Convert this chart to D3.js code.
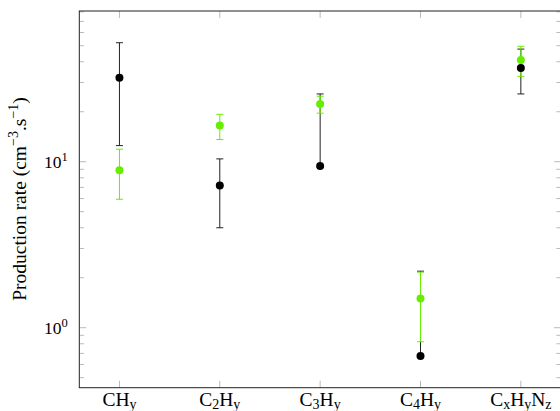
<!DOCTYPE html>
<html><head><meta charset="utf-8">
<script src="https://cdn.jsdelivr.net/npm/d3@7"></script>
<style>body{margin:0;background:#fff}svg{display:block}text{font-family:"Liberation Serif","DejaVu Serif",serif;fill:#000}</style>
</head><body>
<svg id="c" width="560" height="411"></svg>
<script>
const categories = ["CH_y", "C_2H_y", "C_3H_y", "C_4H_y", "C_xH_yN_z"];
const blackValues = [32.1, 7.2, 9.42, 0.675, 36.7];
const blackUpper  = [52.1, 10.4, 25.6, 2.19, 47.7];
const blackLower  = [12.5, 4.0, 9.25, 0.665, 25.6];
const greenValues = [8.88, 16.5, 22.3, 1.50, 41.0];
const greenUpper  = [11.9, 19.3, 24.8, 2.16, 49.6];
const greenLower  = [5.94, 13.6, 19.6, 0.823, 32.7];
const yMajorTicks = [1, 10];
const yMinorTicks = [0.5,0.6,0.7,0.8,0.9,2,3,4,5,6,7,8,9,20,30,40,50,60,70,80];
const yTickLabels = ["10^0", "10^1"];
const yLabel = "Production rate (cm^{−3}.s^{−1})";

const svg = d3.select("#c");
const L = 79.3, R = 561, T = 11, B = 387.7;
const x = d3.scaleLinear().domain([0.6, 5.4]).range([L, R]);
const y = d3.scaleLog().domain([0.435, 80.9]).range([B, T]);
const tickCol = "#aaa";

// ticks
const g = svg.append("g");
yMinorTicks.forEach(v => {
  [[L, L+4.7],[R, R-4.7]].forEach(([a,b]) => g.append("line").attr("x1",a).attr("x2",b).attr("y1",y(v)).attr("y2",y(v)).attr("stroke",tickCol).attr("stroke-width",0.8));
});
yMajorTicks.forEach(v => {
  [[L, L+7],[R, R-7]].forEach(([a,b]) => g.append("line").attr("x1",a).attr("x2",b).attr("y1",y(v)).attr("y2",y(v)).attr("stroke",tickCol).attr("stroke-width",0.8));
});
categories.forEach((c,i) => {
  [[B, B-7],[T, T+7]].forEach(([a,b]) => g.append("line").attr("x1",x(i+1)).attr("x2",x(i+1)).attr("y1",a).attr("y2",b).attr("stroke",tickCol).attr("stroke-width",0.8));
});

// frame
svg.append("rect").attr("x",L).attr("y",T).attr("width",R-L).attr("height",B-T).attr("fill","none").attr("stroke","#222").attr("stroke-width",1);

// y tick labels
yMajorTicks.forEach((v,i) => {
  const [base, exp] = yTickLabels[i].split("^");
  const t = svg.append("text").attr("x", 44).attr("y", y(v)+6).attr("text-anchor","start").style("font-size","17.5px");
  t.append("tspan").text(base);
  t.append("tspan").attr("dy",-7).style("font-size","12.5px").text(exp);
});

// x labels
categories.forEach((c,i) => {
  const t = svg.append("text").attr("x", x(i+1)).attr("y", 405.5).attr("text-anchor","middle").style("font-size","19.5px");
  const parts = c.split("_");
  t.append("tspan").text(parts[0]);
  for (let k=1;k<parts.length;k++){
    t.append("tspan").attr("dy",3.5).style("font-size","14px").text(parts[k][0]);
    if (parts[k].length>1) t.append("tspan").attr("dy",-3.5).text(parts[k].slice(1));
  }
});

// y label
{
  const t = svg.append("text").attr("transform","translate(26,199) rotate(-90)").attr("text-anchor","middle").style("font-size","19.5px");
  const segs = yLabel.split(/\^\{|\}/);
  segs.forEach((s,k) => {
    if (k%2===1) t.append("tspan").attr("dy",-8).style("font-size","14px").text(s);
    else { const ts = t.append("tspan").text(s); if (k>0) ts.attr("dy",8); }
  });
}

// series
function drawBars(vals, up, lo, col){
  const gg = svg.append("g");
  vals.forEach((v,i) => {
    const cx = x(i+1);
    gg.append("line").attr("x1",cx).attr("x2",cx).attr("y1",y(up[i])).attr("y2",y(lo[i])).attr("stroke",col).attr("stroke-width",1);
    [up[i], lo[i]].forEach(e => gg.append("line").attr("x1",cx-3.5).attr("x2",cx+3.5).attr("y1",y(e)).attr("y2",y(e)).attr("stroke",col).attr("stroke-width",1));
  });
}
function drawDots(vals, col){
  svg.append("g").selectAll("circle").data(vals).join("circle")
    .attr("cx",(d,i)=>x(i+1)).attr("cy",d=>y(d)).attr("r",4).attr("fill",col);
}
const black = "#000", green = "#66ee00";
drawBars(blackValues, blackUpper, blackLower, "#222");
drawBars(greenValues, greenUpper, greenLower, green);
drawDots(greenValues, green);
drawDots(blackValues, black);
</script>
</body></html>
